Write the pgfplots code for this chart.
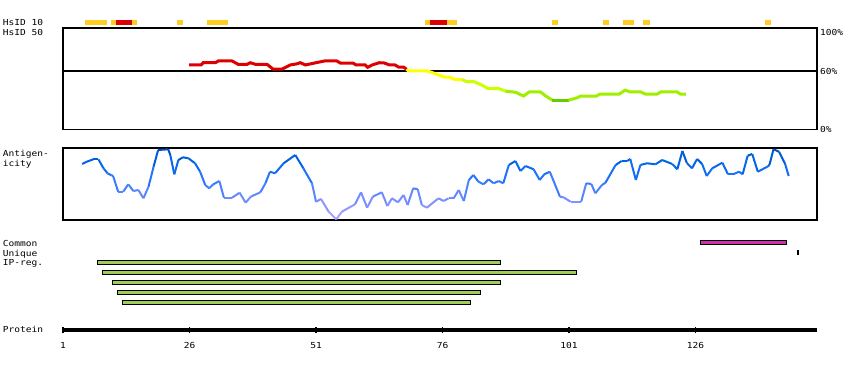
\documentclass[border=0pt]{standalone}
\usepackage{pgfplots}
\pgfplotsset{compat=1.18}
\usepackage{fontspec}
\newfontfamily\pixfont{DejaVu Sans Mono}[FakeStretch=1.15]
\newcommand\pix{\pixfont\fontsize{8.3}{9}\selectfont}
\definecolor{hsorange}{RGB}{255,204,34}
\definecolor{hsred}{RGB}{221,0,0}
\definecolor{hsyellow}{RGB}{255,255,0}
\definecolor{hsyg}{RGB}{204,255,0}
\definecolor{hsgreen}{RGB}{160,238,0}
\definecolor{hsdark}{RGB}{102,204,0}
\definecolor{ipgreen}{RGB}{160,204,90}
\definecolor{cmag}{RGB}{204,51,170}
\pgfplotsset{
  panel/.style={scale only axis, width=754pt, xmin=1, xmax=150,
    axis line style={line width=1.3pt}, xtick=\empty, ytick=\empty},
  blk/.style={draw=none, fill=#1},
}
\begin{document}
\begin{tikzpicture}
\path[use as bounding box] (0pt,0pt) rectangle (850pt,370pt);
% left labels
\begin{scope}[every node/.style={anchor=base west, inner sep=0pt, font=\pix}]
\node at (2.7pt,344.7pt) {HsID 10};
\node at (2.7pt,334.7pt) {HsID 50};
\node at (2.7pt,214pt) {Antigen-};
\node at (2.7pt,204pt) {icity};
\node at (2.7pt,124pt) {Common};
\node at (2.7pt,114pt) {Unique};
\node at (2.7pt,105pt) {IP-reg.};
\node at (2.7pt,38pt) {Protein};
\end{scope}

% HsID 10 blocks
\begin{axis}[scale only axis, width=754pt, height=5pt, at={(63pt,345pt)}, anchor=south west,
  xmin=1, xmax=150, ymin=0, ymax=1, hide axis]
\addplot[blk=hsorange] coordinates {(5.35,0)(9.64,0)(9.64,1)(5.35,1)} --cycle;
\addplot[blk=hsorange] coordinates {(10.49,0)(15.58,0)(15.58,1)(10.49,1)} --cycle;
\addplot[blk=hsred] coordinates {(11.48,0)(14.59,0)(14.59,1)(11.48,1)} --cycle;
\addplot[blk=hsorange] coordinates {(23.55,0)(24.73,0)(24.73,1)(23.55,1)} --cycle;
\addplot[blk=hsorange] coordinates {(29.48,0)(33.63,0)(33.63,1)(29.48,1)} --cycle;
\addplot[blk=hsorange] coordinates {(72.53,0)(78.92,0)(78.92,1)(72.53,1)} --cycle;
\addplot[blk=hsred] coordinates {(73.58,0)(76.90,0)(76.90,1)(73.58,1)} --cycle;
\addplot[blk=hsorange] coordinates {(97.61,0)(98.86,0)(98.86,1)(97.61,1)} --cycle;
\addplot[blk=hsorange] coordinates {(107.72,0)(108.90,0)(108.90,1)(107.72,1)} --cycle;
\addplot[blk=hsorange] coordinates {(111.67,0)(113.81,0)(113.81,1)(111.67,1)} --cycle;
\addplot[blk=hsorange] coordinates {(115.63,0)(117.00,0)(117.00,1)(115.63,1)} --cycle;
\addplot[blk=hsorange] coordinates {(139.72,0)(140.90,0)(140.90,1)(139.72,1)} --cycle;
\end{axis}

% HsID 50 panel
\begin{axis}[panel, height=101.5pt, at={(63pt,240.5pt)}, anchor=south west,
  ymin=0, ymax=104.1, ytick={0,60,100}, yticklabels={0\%,60\%,100\%},
  ytick pos=right, yticklabel pos=right, major tick length=0pt,
  yticklabel style={font=\pix, inner sep=0pt, xshift=3pt}]
\addplot[black, line width=1.2pt] coordinates {(1,60)(150,60)};
\addplot[hsred, line width=3pt] coordinates {
(25.9,66.2)(28.3,66.2)(28.7,68.5)(31.1,68.5)(31.7,70.3)(34.4,70.3)(35.6,66.9)(37.4,66.9)
(38.0,68.5)(39.0,66.9)(41.3,66.9)(42.5,62.0)(44.3,62.0)(45.9,66.2)(47.1,67.2)(47.9,68.5)
(48.9,66.2)(51.0,68.5)(52.7,70.3)(55.1,70.3)(55.8,68.2)(58.3,68.2)(58.9,66.2)(60.7,66.2)
(61.2,63.8)(62.1,66.2)(63.5,68.5)(64.5,68.2)(65.5,66.2)(66.6,66.2)(67.3,64.1)(68.3,64.1)(68.9,61.7)};
\addplot[hsyellow, line width=3pt] coordinates {
(68.9,61.7)(69.3,60.0)(73.1,60.0)(74.9,56.6)(76.3,53.8)(77.3,53.8)(78.3,51.5)(79.7,51.5)};
\addplot[hsyg, line width=3pt] coordinates {
(79.7,51.5)(80.8,49.0)(82.2,49.0)(83.9,45.3)(84.9,42.2)(87.0,42.2)(88.4,39.4)};
\addplot[hsgreen, line width=3pt] coordinates {
(88.4,39.4)(90.5,38.1)(92.0,34.3)(93.2,38.7)(95.3,38.7)(96.4,34.3)(97.7,30.1)};
\addplot[hsdark, line width=3pt] coordinates {(97.7,30.1)(100.9,30.1)};
\addplot[hsgreen, line width=3pt] coordinates {
(100.9,30.1)(102.6,32.5)(103.3,34.3)(106.4,34.3)(107.1,36.3)(110.9,36.3)(112.1,40.4)
(113.0,38.7)(115.1,38.7)(116.1,36.3)(118.4,36.3)(119.2,38.7)(122.3,38.7)(123.0,36.3)(124.1,36.3)};
\end{axis}

% Antigenicity panel
\begin{axis}[panel, height=72pt, at={(63pt,150pt)}, anchor=south west,
  ymin=0, ymax=72,
  colormap={antig}{rgb255(0pt)=(180,165,255) rgb255(15pt)=(140,150,255) rgb255(30pt)=(80,130,255)
    rgb255(45pt)=(30,115,250) rgb255(58pt)=(0,100,230) rgb255(72pt)=(0,75,180)},
  point meta min=0, point meta max=72]
\addplot[mesh, point meta=y, line width=2pt] coordinates {
(4.8,56)(5.7,58.3)(7.0,60.7)(8.0,60.7)(9.0,51.7)(9.8,46.7)(10.6,44.7)(10.9,44)(11.9,28.3)(12.9,28.3)
(13.9,35.7)(14.9,29)(15.9,30)(16.9,21.7)(17.9,33.3)(18.9,53.3)(19.8,70)(21.8,70.7)(22.2,65)(23.0,45.7)
(23.8,60)(24.7,62.7)(25.8,61.7)(27.1,56.7)(28.1,48.3)(29.1,35)(29.9,31.7)(30.7,35.7)(31.9,39)(32.8,22.3)
(34.4,22.3)(35.9,27.3)(37.1,17.3)(38.1,23.3)(40.0,27.7)(41.0,36.7)(41.9,48.3)(42.9,46.7)(44.6,56.7)(46.9,65)
(48.5,51.7)(50.2,36.7)(51.0,18.3)(52.0,21)(53.5,8.3)(55.0,0.7)(56.1,8.3)(58.7,15.7)(59.9,27.7)(61.1,12.3)
(62.2,23.3)(64.0,27.7)(65.1,14)(66.0,21.7)(67.2,17.7)(68.3,25)(69.1,15)(70.2,31.7)(71.1,30.7)(71.9,15)
(72.9,12.3)(75.2,21.7)(76.2,19)(77.2,21.7)(78.2,21.7)(79.2,30)(80.2,19)(81.2,40)(82.1,45)(83.1,38.3)
(84.1,35.7)(85.1,40.7)(86.1,36.7)(87.1,39)(88.0,36.7)(89.1,55)(90.4,59)(91.4,49)(92.4,54)(94.0,50.7)
(95.2,40)(96.1,45.7)(97.2,48.3)(99.2,23.3)(99.9,22.7)(101.3,18.3)(103.4,18.3)(104.4,36.7)(105.4,36)(106.2,26.7)
(107.5,35)(108.2,37.3)(110.2,55)(111.4,59)(112.5,59)(113.1,61)(114.2,40)(115.1,55)(116.4,56.7)(118.1,55.7)
(119.4,60)(121.4,56)(122.4,50.7)(123.4,69)(124.3,56.7)(125.3,51.7)(126.3,61)(127.3,56)(128.2,44)(129.3,51.7)
(131.3,57.3)(132.4,45.7)(133.4,45.7)(134.6,48.3)(135.3,45.7)(136.3,64.3)(137.2,66)(138.3,48.3)(140.2,53.3)(140.6,55)
(141.4,70.7)(142.5,68.3)(143.7,56)(144.4,44)};
\end{axis}

% Regions and protein axis
\begin{axis}[scale only axis, width=754pt, height=97.8pt, at={(63pt,40pt)}, anchor=south west,
  xmin=1, xmax=150, ymin=0, ymax=9.78, y dir=reverse, clip=false,
  axis x line*=bottom, axis y line=none,
  axis line style={line width=3.4pt},
  xtick={1,26,51,76,101,126}, xticklabels={1,26,51,76,101,126},
  tick align=center, major tick length=6.5pt,
  every tick/.style={black, line width=1.3pt},
  xticklabel style={font=\pix, inner sep=0pt, anchor=north, yshift=-9pt}]
\addplot[fill=cmag, draw=black, line width=1pt] coordinates {(126.9,0.8)(144.0,0.8)(144.0,1.2)(126.9,1.2)} --cycle;
\addplot[fill=black, draw=none] coordinates {(146.0,1.8)(146.4,1.8)(146.4,2.25)(146.0,2.25)} --cycle;
\addplot[fill=ipgreen, draw=black, line width=1pt] coordinates {(7.76,2.8)(87.5,2.8)(87.5,3.2)(7.76,3.2)} --cycle;
\addplot[fill=ipgreen, draw=black, line width=1pt] coordinates {(8.75,3.8)(102.55,3.8)(102.55,4.2)(8.75,4.2)} --cycle;
\addplot[fill=ipgreen, draw=black, line width=1pt] coordinates {(10.73,4.8)(87.5,4.8)(87.5,5.2)(10.73,5.2)} --cycle;
\addplot[fill=ipgreen, draw=black, line width=1pt] coordinates {(11.72,5.8)(83.57,5.8)(83.57,6.2)(11.72,6.2)} --cycle;
\addplot[fill=ipgreen, draw=black, line width=1pt] coordinates {(12.71,6.8)(81.5,6.8)(81.5,7.2)(12.71,7.2)} --cycle;
\end{axis}
\end{tikzpicture}
\end{document}
